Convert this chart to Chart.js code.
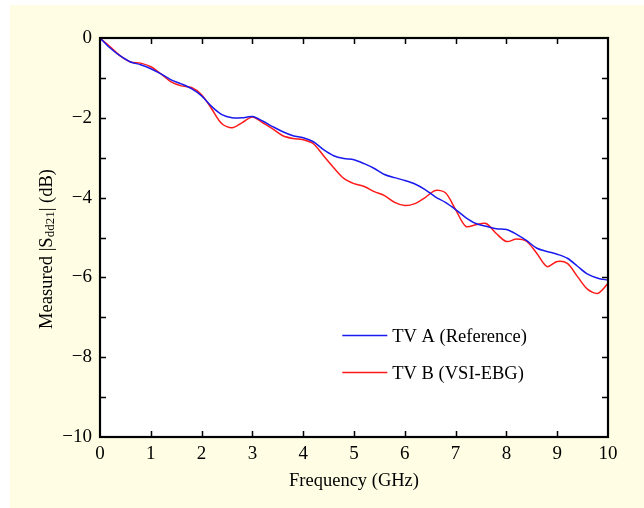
<!DOCTYPE html>
<html>
<head>
<meta charset="utf-8">
<script src="https://cdn.jsdelivr.net/npm/chart.js@4.4.1/dist/chart.umd.min.js"></script>
<style>
  html, body { margin: 0; padding: 0; background: #ffffff; }
  #wrap { width: 644px; height: 508px; }
</style>
</head>
<body>
<div id="wrap"><canvas id="sChart" width="644" height="508"></canvas></div>
<script>
// frequency points (GHz), read every 0.2 GHz
const freq = [0, 0.2, 0.4, 0.6, 0.8, 1.0, 1.2, 1.4, 1.6, 1.8, 2.0, 2.2, 2.4, 2.6, 2.8, 3.0,
  3.2, 3.4, 3.6, 3.8, 4.0, 4.2, 4.4, 4.6, 4.8, 5.0, 5.2, 5.4, 5.6, 5.8, 6.0, 6.2, 6.4, 6.6,
  6.8, 7.0, 7.2, 7.4, 7.6, 7.8, 8.0, 8.2, 8.4, 8.6, 8.8, 9.0, 9.2, 9.4, 9.6, 9.8, 10.0];

const tvA = [0, -0.25, -0.45, -0.6, -0.67, -0.77, -0.9, -1.05, -1.15, -1.27, -1.45, -1.72,
  -1.92, -2.0, -2.0, -1.97, -2.08, -2.22, -2.35, -2.45, -2.5, -2.6, -2.8, -2.95, -3.02, -3.05,
  -3.15, -3.27, -3.42, -3.5, -3.57, -3.66, -3.8, -3.98, -4.12, -4.3, -4.5, -4.65, -4.72, -4.78,
  -4.8, -4.92, -5.08, -5.27, -5.35, -5.42, -5.52, -5.72, -5.92, -6.02, -6.07];

const tvB = [0, -0.22, -0.45, -0.6, -0.63, -0.72, -0.9, -1.1, -1.2, -1.24, -1.42, -1.78,
  -2.15, -2.25, -2.12, -1.98, -2.12, -2.28, -2.45, -2.52, -2.55, -2.65, -2.95, -3.25, -3.52,
  -3.65, -3.72, -3.85, -3.95, -4.12, -4.2, -4.15, -4.0, -3.82, -3.88, -4.3, -4.72, -4.68, -4.65,
  -4.9, -5.1, -5.04, -5.1, -5.4, -5.73, -5.6, -5.65, -5.98, -6.3, -6.4, -6.15];

const seriesNames = ['TV A (Reference)', 'TV B (VSI-EBG)'];
const seriesColors = ['#1a1aee', '#ff1a1a'];
const xTicks = [0, 1, 2, 3, 4, 5, 6, 7, 8, 9, 10];
const yTicks = [0, -2, -4, -6, -8, -10];

const serif = '"Liberation Serif", "DejaVu Serif", serif';

function toPoints(xs, ys) {
  return xs.map((x, i) => ({ x: x, y: ys[i] }));
}

// page background, white plot box
const bgPlugin = {
  id: 'bg',
  beforeDraw(chart) {
    const c = chart.ctx, a = chart.chartArea;
    c.save();
    c.fillStyle = '#fffee4';
    c.fillRect(10, 5, chart.width - 10, chart.height - 5);
    c.fillStyle = '#ffffff';
    c.fillRect(a.left, a.top, a.right - a.left, a.bottom - a.top);
    c.restore();
  }
};

// frame, inward ticks, axis titles and legend
const decoPlugin = {
  id: 'deco',
  afterDraw(chart) {
    const c = chart.ctx, a = chart.chartArea;
    const xs = chart.scales.x, ys = chart.scales.y;
    c.save();
    c.strokeStyle = '#000';
    c.lineWidth = 1.5;
    for (let v = 1; v < 10; v++) {
      const px = Math.round(xs.getPixelForValue(v)) + 0.5;
      c.beginPath();
      c.moveTo(px, a.bottom); c.lineTo(px, a.bottom - 6);
      c.moveTo(px, a.top); c.lineTo(px, a.top + 6);
      c.stroke();
    }
    for (let v = -9; v < 0; v++) {
      const py = Math.round(ys.getPixelForValue(v)) + 0.5;
      c.beginPath();
      c.moveTo(a.left, py); c.lineTo(a.left + 6, py);
      c.moveTo(a.right, py); c.lineTo(a.right - 6, py);
      c.stroke();
    }
    c.lineWidth = 2.2;
    c.strokeRect(a.left, a.top, a.right - a.left, a.bottom - a.top);

    // x title
    c.fillStyle = '#000';
    c.font = '18.5px ' + serif;
    c.textAlign = 'center';
    c.textBaseline = 'middle';
    c.fillText('Frequency (GHz)', (a.left + a.right) / 2, 481);

    // y title with subscript
    c.translate(47, 249);
    c.rotate(-Math.PI / 2);
    const parts = [['Measured |S', 18.5, 0], ['dd21', 13, 4], ['| (dB)', 18.5, 0]];
    let total = 0;
    parts.forEach(p => { c.font = p[1] + 'px ' + serif; total += c.measureText(p[0]).width; });
    let x = -total / 2;
    c.textAlign = 'left';
    parts.forEach(p => {
      c.font = p[1] + 'px ' + serif;
      c.fillText(p[0], x, p[2]);
      x += c.measureText(p[0]).width;
    });
    c.restore();

    // legend inside plot
    c.save();
    const w = a.right - a.left, h = a.bottom - a.top;
    c.font = '18.5px ' + serif;
    c.textBaseline = 'middle';
    c.textAlign = 'left';
    seriesNames.forEach((name, i) => {
      const ly = Math.round(a.top + (i === 0 ? 0.745 : 0.837) * h) + 0.5;
      const lx = a.left + 0.477 * w;
      c.strokeStyle = seriesColors[i];
      c.lineWidth = 1.5;
      c.beginPath();
      c.moveTo(lx, ly); c.lineTo(lx + 45, ly);
      c.stroke();
      c.fillStyle = '#000';
      c.fillText(name, lx + 50, ly + 2);
    });
    c.restore();
  }
};

const ctx = document.getElementById('sChart').getContext('2d');
const sChart = new Chart(ctx, {
  type: 'scatter',
  data: {
    datasets: [
      {
        label: seriesNames[0],
        data: toPoints(freq, tvA),
        showLine: true,
        borderColor: seriesColors[0],
        borderWidth: 1.5,
        pointRadius: 0,
        tension: 0.3
      },
      {
        label: seriesNames[1],
        data: toPoints(freq, tvB),
        showLine: true,
        borderColor: seriesColors[1],
        borderWidth: 1.5,
        pointRadius: 0,
        tension: 0.3
      }
    ]
  },
  options: {
    responsive: false,
    animation: false,
    layout: { padding: { left: 0, top: 38, right: 36, bottom: 0 } },
    plugins: { legend: { display: false }, tooltip: { enabled: false } },
    scales: {
      x: {
        type: 'linear',
        min: 0,
        max: 10,
        afterBuildTicks: s => { s.ticks = xTicks.map(v => ({ value: v })); },
        afterFit: s => { s.height = 71; },
        grid: { display: false, drawTicks: false },
        border: { display: false },
        ticks: {
          color: '#000',
          padding: 6,
          maxRotation: 0,
          font: { family: serif, size: 19 },
          callback: v => String(v)
        }
      },
      y: {
        type: 'linear',
        min: -10,
        max: 0,
        afterBuildTicks: s => { s.ticks = yTicks.map(v => ({ value: v })); },
        afterFit: s => { s.width = 100; },
        grid: { display: false, drawTicks: false },
        border: { display: false },
        ticks: {
          color: '#000',
          padding: 8,
          font: { family: serif, size: 19 },
          callback: v => (v < 0 ? '\u2212' + Math.abs(v) : String(v))
        }
      }
    }
  },
  plugins: [bgPlugin, decoPlugin]
});
</script>
</body>
</html>
